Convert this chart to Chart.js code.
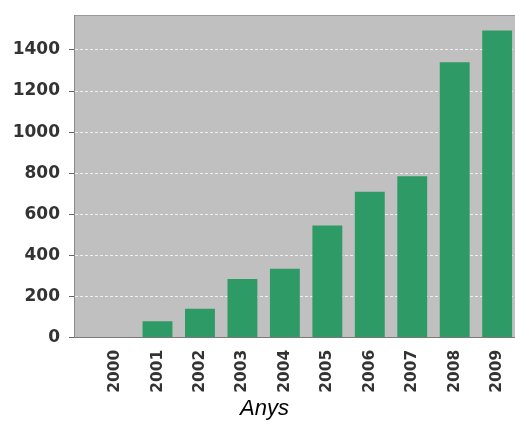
<!DOCTYPE html>
<html>
<head>
<meta charset="utf-8">
<script src="https://cdn.jsdelivr.net/npm/chart.js@4.4.0/dist/chart.umd.min.js"></script>
<style>
  html, body { margin: 0; padding: 0; background: #fff; }
  canvas { display: block; }
</style>
</head>
<body>
<canvas id="chart" width="515" height="425"></canvas>
<script>
const years = ['2000', '2001', '2002', '2003', '2004', '2005', '2006', '2007', '2008', '2009'];
const values = [0, 80, 140, 285, 335, 545, 710, 785, 1340, 1495];
const yTicks = [0, 200, 400, 600, 800, 1000, 1200, 1400];
const axisTitle = 'Anys';

// grey plot background with a thin top border
const plotBg = {
  id: 'plotBg',
  beforeDraw(chart) {
    const { ctx, chartArea: a } = chart;
    ctx.save();
    ctx.fillStyle = '#c0c0c0';
    ctx.fillRect(a.left, a.top, a.right - a.left, a.bottom - a.top);
    ctx.strokeStyle = '#9a9a9a';
    ctx.lineWidth = 1;
    ctx.beginPath();
    ctx.moveTo(a.left, a.top + 0.5);
    ctx.lineTo(a.right, a.top + 0.5);
    ctx.stroke();
    ctx.restore();
  }
};

new Chart(document.getElementById('chart').getContext('2d'), {
  type: 'bar',
  data: {
    datasets: [{
      data: values.map((v, i) => ({ x: i, y: v })),
      backgroundColor: '#2e9a66',
      borderWidth: 0,
      barPercentage: 0.88,
      categoryPercentage: 0.8
    }]
  },
  plugins: [plotBg],
  options: {
    responsive: false,
    animation: false,
    devicePixelRatio: 1,
    layout: { padding: { left: 14, top: 15, right: 0, bottom: 0 } },
    plugins: {
      legend: { display: false },
      tooltip: { enabled: false },
      title: {
        display: true,
        position: 'bottom',
        text: axisTitle,
        color: '#000',
        font: { family: 'Liberation Sans', size: 22, style: 'italic', weight: 'normal' },
        padding: { top: 3, bottom: 3 }
      }
    },
    scales: {
      x: {
        type: 'linear',
        offset: false,
        min: -0.967,
        max: 9.42,
        afterBuildTicks: axis => { axis.ticks = years.map((_, i) => ({ value: i })); },
        afterFit: s => { s.height = 55; s.paddingLeft = 0; s.paddingRight = 0; },
        grid: { display: false, drawTicks: false },
        border: { display: true, color: '#7a7a7a', width: 1 },
        ticks: {
          minRotation: 90,
          maxRotation: 90,
          padding: 12,
          color: '#333',
          font: { family: 'DejaVu Sans', size: 15.5, weight: 'bold' },
          callback: v => years[v] ?? ''
        }
      },
      y: {
        min: 0,
        max: 1570,
        afterBuildTicks: axis => { axis.ticks = yTicks.map(v => ({ value: v })); },
        afterFit: s => { s.width = 60; s.paddingTop = 0; s.paddingBottom = 0; },
        grid: {
          color: ctx => ctx.tick && ctx.tick.value === 0 ? 'rgba(0,0,0,0)' : 'rgba(255,255,255,0.75)',
          lineWidth: 1,
          drawTicks: true,
          tickLength: 5,
          tickColor: '#666',
          tickBorderDash: []
        },
        border: { display: true, color: '#8a8a8a', width: 1, dash: [3, 2] },
        ticks: {
          padding: 9,
          color: '#333',
          font: { family: 'DejaVu Sans', size: 17, weight: 'bold' },
          callback: v => String(v)
        }
      }
    }
  }
});
</script>
</body>
</html>
